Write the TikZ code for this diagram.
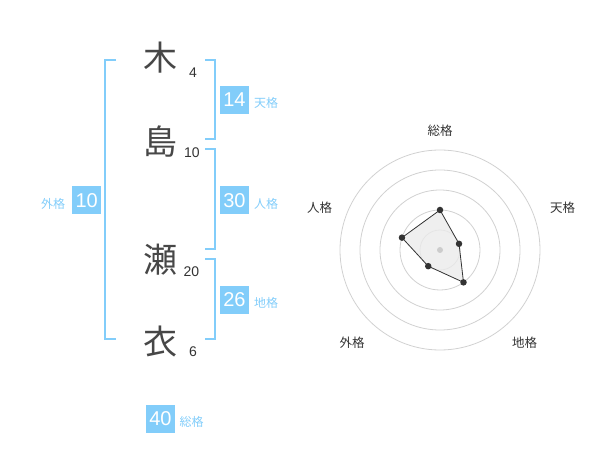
\documentclass[tikz,border=0pt]{standalone}
\usepackage{fontspec}
\setmainfont{Noto Sans CJK JP}
\newfontfamily\digitfont{Liberation Sans}
\definecolor{kakublue}{RGB}{130,205,250}
\definecolor{inkgray}{RGB}{51,51,51}
\tikzset{
  kanji/.style={inner sep=0pt,text=inkgray!90,font=\fontsize{34}{34}\selectfont},
  strokes/.style={inner sep=0pt,text=inkgray,font=\digitfont\fontsize{14}{14}\selectfont},
  kakubox/.style={fill=kakublue,text=white,inner sep=0pt,minimum width=29pt,minimum height=28pt,font=\digitfont\fontsize{20}{20}\selectfont},
  kakulabel/.style={inner sep=0pt,text=kakublue,font=\fontsize{12}{12}\selectfont},
  bracket/.style={draw=kakublue,line width=2pt},
  ring/.style={draw=black!18,line width=0.8pt},
  axislabel/.style={inner sep=0pt,text=inkgray,font=\fontsize{12.5}{12.5}\selectfont},
  dot/.style={circle,fill=inkgray,inner sep=0pt,minimum size=6.5pt},
}
\begin{document}
\begin{tikzpicture}[x=1pt,y=-1pt]
  \useasboundingbox (0,0) rectangle (600,470);

  % name
  \node[kanji] (k1) at (160,58) {木};
  \node[kanji] (k2) at (160,141.5) {島};
  \node[kanji] (k3) at (160,260) {瀬};
  \node[kanji] (k4) at (160,342) {衣};
  \node[strokes] (s1) at (193,73) {4};
  \node[strokes] (s2) at (192,152.5) {10};
  \node[strokes] (s3) at (191.5,272) {20};
  \node[strokes] (s4) at (193,352) {6};

  % brackets
  \draw[bracket] (116,60) -- (105,60) -- (105,339) -- (116,339);
  \draw[bracket] (205,60) -- (214.5,60) -- (214.5,139) -- (205,139);
  \draw[bracket] (205,149.5) -- (214.5,149.5) -- (214.5,249.5) -- (205,249.5);
  \draw[bracket] (205,259.5) -- (214.5,259.5) -- (214.5,339) -- (205,339);

  \node[kakubox] (ten) at (234.5,100) {14};
  \node[kakulabel] (tenl) at (266,103) {天格};
  \node[kakubox] (jin) at (234.5,200.5) {30};
  \node[kakulabel] (jinl) at (266,203.5) {人格};
  \node[kakubox] (chi) at (234.5,300) {26};
  \node[kakulabel] (chil) at (266,303) {地格};
  \node[kakubox] (gai) at (86.7,200.5) {10};
  \node[kakulabel] (gail) at (53,203.5) {外格};
  \node[kakubox] (sou) at (160.5,419) {40};
  \node[kakulabel] (soul) at (191.5,422) {総格};

  % radar
  \begin{scope}[shift={(440,250)},yscale=-1]
    \foreach \r in {20,40,60,80,100}
      \draw[ring] (0,0) circle (\r);
    \node[axislabel] (lsou) at (0,119) {総格};
    \node[axislabel] (lten) at (122.5,42) {天格};
    \node[axislabel] (lchi) at (84.5,-93) {地格};
    \node[axislabel] (lgai) at (-88,-93) {外格};
    \node[axislabel] (ljin) at (-120.5,42) {人格};
    \coordinate (psou) at (90:40);
    \coordinate (pten) at (18:20);
    \coordinate (pchi) at (-54:40);
    \coordinate (pgai) at (-126:20);
    \coordinate (pjin) at (162:40);
    \filldraw[fill=black!8,fill opacity=.8,draw=inkgray,line width=0.8pt]
      (psou) -- (pten) -- (pchi) -- (pgai) -- (pjin) -- cycle;
    \fill[black!20] (0,0) circle (3);
    \foreach \p in {psou,pten,pchi,pgai,pjin}
      \node[dot] at (\p) {};
  \end{scope}
\end{tikzpicture}
\end{document}
